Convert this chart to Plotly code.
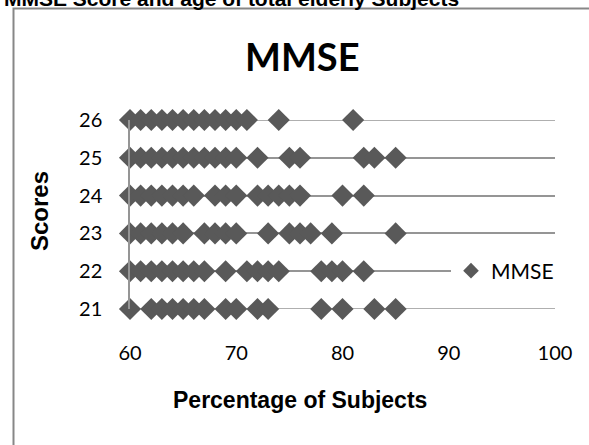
import plotly.graph_objects as go

# ---- data ----
scores = [26, 25, 24, 23, 22, 21]
pct_26 = [60, 61, 62, 63, 64, 65, 66, 67, 68, 69, 70, 71, 74, 81]
pct_25 = [60, 61, 62, 63, 64, 65, 66, 67, 68, 69, 70, 72, 75, 76, 82, 83, 85]
pct_24 = [60, 61, 62, 63, 64, 65, 66, 68, 69, 70, 72, 73, 74, 75, 76, 80, 82]
pct_23 = [60, 61, 62, 63, 64, 65, 67, 68, 69, 70, 73, 75, 76, 77, 79, 85]
pct_22 = [60, 61, 62, 63, 64, 65, 66, 67, 69, 71, 72, 73, 74, 78, 79, 80, 82]
pct_21 = [60, 62, 63, 64, 65, 66, 67, 69, 70, 72, 73, 78, 80, 83, 85]
x_ticks = [60, 70, 80, 90, 100]
y_ticks = [21, 22, 23, 24, 25, 26]

rows = [pct_26, pct_25, pct_24, pct_23, pct_22, pct_21]
xs, ys = [], []
for s, r in zip(scores, rows):
    xs += r
    ys += [s] * len(r)

W, H = 589, 445
L, R, T, B = 130, 34, 120, 136
PW, PH = W - L - R, H - T - B


def xp(px):
    return (px - L) / PW


def yp(py):
    return (H - B - py) / PH


GRID = "#959595"
MK = "#595959"

fig = go.Figure()
fig.add_trace(go.Scatter(
    x=xs, y=ys, mode="markers", name="MMSE", cliponaxis=False,
    marker=dict(symbol="diamond", size=17, color=MK, line=dict(width=0)),
))

# horizontal gridlines at the two range ends (plotly omits edge gridlines)
edge_lines = [dict(type="line", xref="x", yref="y", x0=x_ticks[0], x1=x_ticks[-1],
                   y0=v, y1=v, line=dict(color=GRID, width=1.5), layer="below")
              for v in (y_ticks[0], y_ticks[-1])]

fig.update_layout(
    width=W, height=H,
    margin=dict(l=L, r=R, t=T, b=B, pad=0),
    paper_bgcolor="white", plot_bgcolor="white",
    showlegend=True,
    legend=dict(x=xp(451), y=yp(271), xanchor="left", yanchor="middle",
                bgcolor="white", borderwidth=0, itemsizing="constant",
                font=dict(family="Lato", size=21, color="#000")),
    xaxis=dict(range=[60, 100], tickvals=x_ticks, showgrid=False, zeroline=False,
               showline=False, ticks="", ticklabelstandoff=30,
               tickfont=dict(family="Lato", size=20, color="#000")),
    yaxis=dict(range=[21, 26], tickvals=y_ticks, showgrid=True, gridcolor=GRID,
               gridwidth=1.5, zeroline=False, showline=True, linecolor=GRID,
               linewidth=1.5, ticks="", ticklabelstandoff=22,
               tickfont=dict(family="Lato", size=20, color="#000")),
    shapes=[dict(type="rect", xref="paper", yref="paper",
                 x0=xp(13.5), x1=xp(640), y0=yp(480), y1=yp(8.5),
                 line=dict(color="#878787", width=2), layer="below")] + edge_lines,
    annotations=[
        dict(text="MMSE Score and age of total elderly Subjects", xref="paper", yref="paper",
             x=xp(2), y=yp(-1.5), xanchor="left", yanchor="middle", showarrow=False,
             font=dict(family="Liberation Sans", size=21, color="#000", weight="bold")),
        dict(text="MMSE", xref="paper", yref="paper", x=xp(302), y=yp(56),
             xanchor="center", yanchor="middle", showarrow=False,
             font=dict(family="Lato", size=38, color="#000", weight="bold")),
        dict(text="Percentage of Subjects", xref="paper", yref="paper", x=xp(300), y=yp(400),
             xanchor="center", yanchor="middle", showarrow=False,
             font=dict(family="Liberation Sans", size=23, color="#000", weight="bold")),
        dict(text="Scores", xref="paper", yref="paper", x=xp(39), y=yp(211),
             xanchor="center", yanchor="middle", showarrow=False, textangle=-90,
             font=dict(family="Liberation Sans", size=24, color="#000", weight="bold")),
    ],
)

fig.write_html("out.html", config={"displayModeBar": False},
               post_script="document.body.style.margin='0';document.body.style.overflow='hidden';")
